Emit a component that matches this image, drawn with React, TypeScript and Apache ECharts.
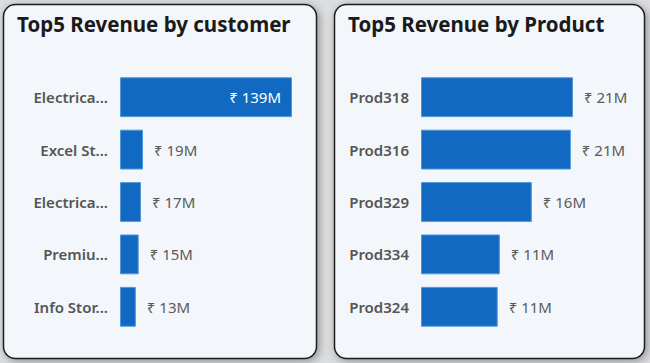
import React, { useEffect, useRef } from "react";
import * as echarts from "echarts";

const customerCategories = ["Electrica...", "Excel St...", "Electrica...", "Premiu...", "Info Stor..."];
const customerValues = [139.0, 18.6, 17.0, 15.1, 12.8];
const productCategories = ["Prod318", "Prod316", "Prod329", "Prod334", "Prod324"];
const productValues = [21.4, 21.1, 15.6, 11.1, 10.8];
const titles = ["Top5 Revenue by customer", "Top5 Revenue by Product"];

const FONT = "'Noto Sans', 'DejaVu Sans', sans-serif";
const BAR = "#1169c1";

function fmt(v: number) {
  return "\u20B9 " + Math.round(v) + "M";
}

function buildSeriesData(values: number[]) {
  const max = Math.max(...values);
  return values.map((v) =>
    v === max && values.length && max / (values[1] || 1) > 3
      ? { value: v, label: { position: "insideRight", color: "#ffffff", distance: 11 } }
      : { value: v }
  );
}

export default function App() {
  const ref = useRef<HTMLDivElement>(null);
  useEffect(() => {
    if (!ref.current) return;
    const chart = echarts.init(ref.current, undefined, { renderer: "svg" });
    const panelStyle = {
      fill: "#f3f6fa",
      stroke: "#1c1c1c",
      lineWidth: 1.5,
      shadowBlur: 8,
      shadowColor: "rgba(0,0,0,0.35)",
      shadowOffsetX: 2,
      shadowOffsetY: 2,
    };
    const yAxisCommon = {
      type: "category",
      inverse: true,
      axisLine: { show: false },
      axisTick: { show: false },
      axisLabel: {
        margin: 12,
        fontSize: 15,
        color: "#555555",
        fontWeight: 600,
        fontFamily: FONT,
      },
    };
    const xAxisCommon = {
      type: "value",
      show: false,
      min: 0,
      max: "dataMax",
      splitLine: { show: false },
    };
    const seriesCommon = {
      type: "bar",
      barCategoryGap: "24%",
      itemStyle: { color: BAR, borderColor: "#4f96d8", borderWidth: 1 },
      label: {
        show: true,
        position: "right",
        distance: 11,
        fontSize: 15,
        color: "#5a5a5a",
        fontFamily: FONT,
        formatter: (p: any) => fmt(p.value),
      },
      z: 3,
    };
    const titleStyle = { fontSize: 20.5, fontWeight: "bold", color: "#1a1a1a", fontFamily: FONT };
    chart.setOption({
      animation: false,
      backgroundColor: "#dcdddf",
      graphic: [
        { type: "rect", z: 0, shape: { x: 3.5, y: 4.5, width: 313, height: 354, r: 12 }, style: panelStyle },
        { type: "rect", z: 0, shape: { x: 334.5, y: 4.5, width: 310, height: 354, r: 12 }, style: panelStyle },
      ],
      title: [
        { text: titles[0], left: 17, top: 13, padding: 0, textStyle: titleStyle },
        { text: titles[1], left: 348, top: 13, padding: 0, textStyle: titleStyle },
      ],
      grid: [
        { left: 120, top: 71, width: 172, height: 262, containLabel: false },
        { left: 421, top: 71, width: 152, height: 262, containLabel: false },
      ],
      xAxis: [
        { ...xAxisCommon, gridIndex: 0 },
        { ...xAxisCommon, gridIndex: 1 },
      ],
      yAxis: [
        { ...yAxisCommon, gridIndex: 0, data: customerCategories },
        { ...yAxisCommon, gridIndex: 1, data: productCategories },
      ],
      series: [
        { ...seriesCommon, xAxisIndex: 0, yAxisIndex: 0, data: buildSeriesData(customerValues) },
        { ...seriesCommon, xAxisIndex: 1, yAxisIndex: 1, data: buildSeriesData(productValues) },
      ],
    } as any);
    return () => chart.dispose();
  }, []);
  return (
    <div style={{ position: "fixed", left: 0, top: 0, width: 650, height: 363 }}>
      <div ref={ref} style={{ width: 650, height: 363 }} />
    </div>
  );
}
